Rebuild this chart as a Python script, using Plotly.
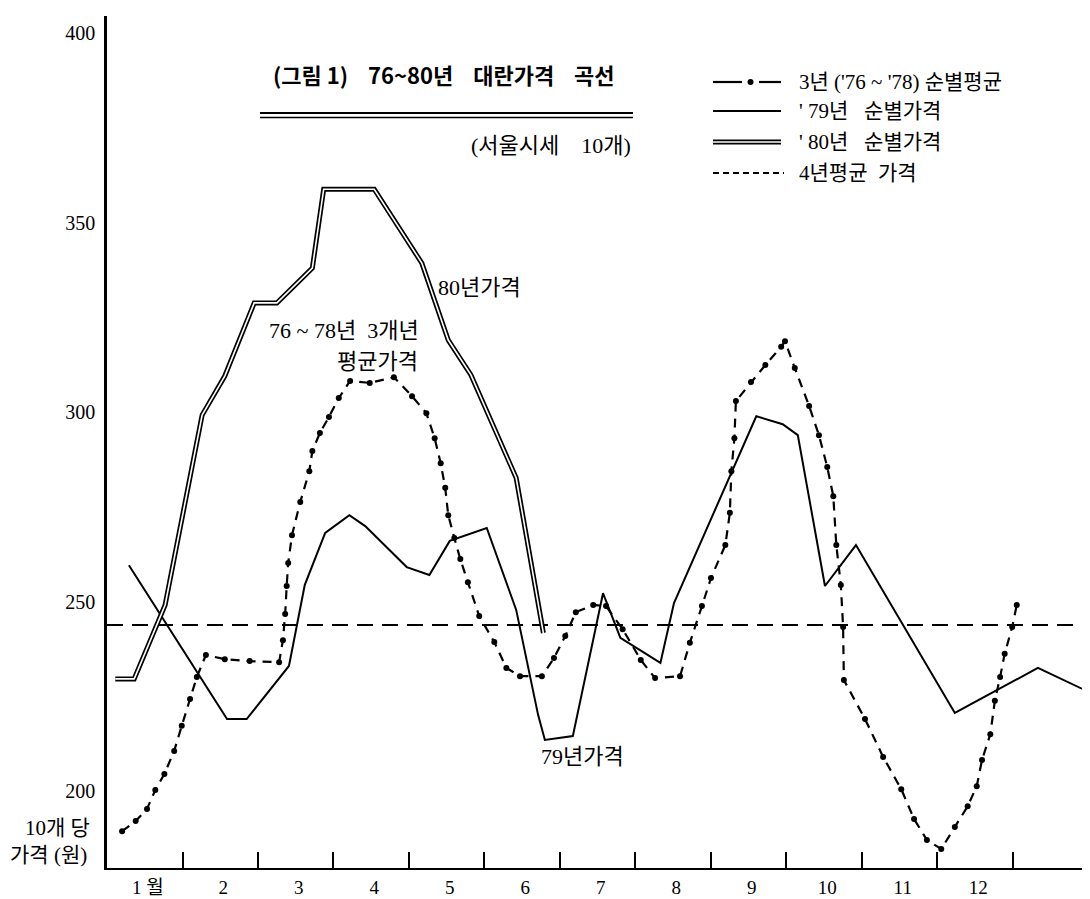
import plotly.graph_objects as go

# ---------------- data ----------------
# x = position in months (0 = start of January, 1 = end of January ...)
months_80 = [0.11, 0.36, 0.77, 1.26, 1.56, 1.95, 2.25, 2.72, 2.87, 3.54, 4.17, 4.52, 4.82, 5.42, 5.78]
price_80 = [229.6, 229.6, 249.1, 299.2, 309.5, 328.8, 328.8, 338.0, 358.8, 358.8, 339.3, 319.0, 309.8, 282.6, 241.7]

months_79 = [0.29, 1.59, 1.85, 2.41, 2.62, 2.89, 3.21, 3.42, 3.97, 4.27, 4.54, 5.03, 5.42, 5.71,
             5.80, 6.17, 6.57, 6.80, 7.33, 7.51, 8.60, 8.95, 9.15, 9.51, 9.92, 11.23, 12.33, 13.03]
price_79 = [259.6, 219.0, 219.0, 233.0, 254.4, 268.1, 272.8, 269.9, 259.1, 257.0, 266.0, 269.4, 247.8, 220.1,
            213.5, 214.5, 252.2, 240.4, 233.8, 249.6, 298.9, 296.8, 293.9, 254.1, 264.9, 220.6, 232.5, 225.9]

months_3yr = [0.20, 0.38, 0.53, 0.64, 0.76, 0.89, 0.99, 1.10, 1.19, 1.31, 1.56, 1.89, 2.28, 2.33, 2.36, 2.38,
              2.40, 2.45, 2.56, 2.68, 2.72, 2.82, 2.94, 3.07, 3.22, 3.48, 3.80, 4.04, 4.23, 4.34, 4.42, 4.48,
              4.52, 4.60, 4.68, 4.78, 4.93, 5.13, 5.29, 5.47, 5.76, 5.92, 6.07, 6.21, 6.44, 6.61, 6.83, 7.07,
              7.26, 7.59, 7.72, 7.88, 8.00, 8.19, 8.25, 8.27, 8.31, 8.33, 8.53, 8.72, 8.93, 8.98, 9.11, 9.30,
              9.43, 9.54, 9.62, 9.66, 9.72, 9.75, 9.76, 10.04, 10.28, 10.52, 10.69, 10.86, 11.05, 11.23, 11.40,
              11.52, 11.59, 11.70, 11.76, 11.83, 11.89, 11.99, 12.05]
price_3yr = [189.4, 192.1, 195.3, 200.3, 204.5, 210.6, 217.2, 224.3, 230.1, 235.9, 234.8, 234.3, 234.0, 239.8,
             246.7, 254.1, 260.2, 267.5, 276.3, 284.4, 289.7, 294.5, 298.7, 303.7, 308.2, 307.7, 309.2, 304.2,
             299.7, 293.1, 286.5, 280.0, 272.8, 266.8, 261.2, 255.1, 246.2, 239.3, 232.5, 230.3, 230.3, 235.1,
             240.9, 247.2, 249.1, 248.8, 242.7, 234.6, 229.8, 230.3, 239.1, 248.8, 256.2, 264.9, 273.4, 284.4,
             293.1, 302.9, 307.9, 312.4, 317.2, 318.7, 311.6, 301.6, 293.9, 285.5, 277.8, 264.9, 254.4, 243.3,
             229.3, 219.0, 209.0, 200.5, 192.6, 187.1, 184.7, 190.5, 196.0, 201.3, 208.2, 215.0, 223.8, 230.1,
             236.2, 243.3, 249.1]

avg_4yr = 243.8

month_labels = ["1 월", "2", "3", "4", "5", "6", "7", "8", "9", "10", "11", "12"]
month_bounds = [1, 2, 3, 4, 5, 6, 7, 8, 9, 10, 11, 12]
y_ticks = [200, 250, 300, 350, 400]

legend_labels = ["3년 ('76 ~ '78) 순별평균", "' 79년   순별가격", "' 80년   순별가격", "4년평균  가격"]
title_text = "(그림 1)    76~80년    대란가격    곡선"
subtitle_text = "(서울시세    10개)"

# ---------------- layout helpers ----------------
W, H = 1090, 899
L, R, T, B = 99, 5, 8, 39
X_RANGE = [0, 13.06]
Y_RANGE = [179.7, 404.5]
SERIF = "Liberation Serif, Noto Sans CJK KR, serif"
KR = "Noto Sans CJK KR, sans-serif"


def px(x):
    return (x - L) / (W - L - R)


def py(y):
    return (H - B - y) / (H - T - B)


def sp(s):
    return s.replace(" ", "\u00a0")


fig = go.Figure()

# 4-year average (dashed horizontal)
fig.add_trace(go.Scatter(x=X_RANGE, y=[avg_4yr, avg_4yr], mode="lines",
                         line=dict(color="black", width=2, dash="16px,9px")))
# '79
fig.add_trace(go.Scatter(x=months_79, y=price_79, mode="lines",
                         line=dict(color="black", width=2)))
# 3-year average: dash + dots
fig.add_trace(go.Scatter(x=months_3yr, y=price_3yr, mode="lines+markers",
                         line=dict(color="black", width=2.2, dash="9px,7px"),
                         marker=dict(color="black", size=6)))
# '80 double line
fig.add_trace(go.Scatter(x=months_80, y=price_80, mode="lines",
                         line=dict(color="black", width=5)))
fig.add_trace(go.Scatter(x=months_80, y=price_80, mode="lines",
                         line=dict(color="white", width=1.6)))

shapes = []
annotations = []

# title + double underline + subtitle
annotations.append(dict(x=px(436), y=py(66), xref="paper", yref="paper", text=sp(title_text),
                        showarrow=False, xanchor="center", yanchor="middle",
                        font=dict(family=KR, size=22, color="black", weight="bold")))
for yy, w in [(105, 2), (109.5, 1.6)]:
    shapes.append(dict(type="line", xref="paper", yref="paper", x0=px(252), x1=px(625),
                       y0=py(yy), y1=py(yy), line=dict(color="black", width=w)))
annotations.append(dict(x=px(625), y=py(138), xref="paper", yref="paper", text=sp(subtitle_text),
                        showarrow=False, xanchor="right", yanchor="middle",
                        font=dict(family=SERIF, size=22, color="black")))

# manual legend
rows = [74, 103, 134, 165]
x0l, x1l = 705, 773
# row 1: dash-dot-dash
shapes.append(dict(type="line", xref="paper", yref="paper", x0=px(x0l), x1=px(734),
                   y0=py(rows[0]), y1=py(rows[0]), line=dict(color="black", width=2.2)))
shapes.append(dict(type="line", xref="paper", yref="paper", x0=px(751), x1=px(x1l),
                   y0=py(rows[0]), y1=py(rows[0]), line=dict(color="black", width=2.2)))
shapes.append(dict(type="circle", xref="paper", yref="paper", x0=px(739.5), x1=px(745.5),
                   y0=py(rows[0] + 3), y1=py(rows[0] - 3), fillcolor="black", line=dict(width=0)))
# row 2: solid
shapes.append(dict(type="line", xref="paper", yref="paper", x0=px(x0l), x1=px(x1l),
                   y0=py(rows[1]), y1=py(rows[1]), line=dict(color="black", width=2)))
# row 3: double line
shapes.append(dict(type="line", xref="paper", yref="paper", x0=px(x0l), x1=px(x1l),
                   y0=py(rows[2]), y1=py(rows[2]), line=dict(color="black", width=5)))
shapes.append(dict(type="line", xref="paper", yref="paper", x0=px(x0l), x1=px(x1l),
                   y0=py(rows[2]), y1=py(rows[2]), line=dict(color="white", width=1.6)))
# row 4: short dashes
shapes.append(dict(type="line", xref="paper", yref="paper", x0=px(x0l), x1=px(776),
                   y0=py(rows[3]), y1=py(rows[3]), line=dict(color="black", width=1.8, dash="6px,4px")))
for r, lab in zip(rows, legend_labels):
    annotations.append(dict(x=px(789), y=py(r), xref="paper", yref="paper", text=sp(lab),
                            showarrow=False, xanchor="left", yanchor="middle",
                            font=dict(family=SERIF, size=21, color="black")))

# in-plot labels
for txt, xl, yc in [("80년가격", 428, 280), ("76 ~ 78년  3개년", 259, 323),
                    ("평균가격", 327, 353), ("79년가격", 531, 748)]:
    annotations.append(dict(x=px(xl), y=py(yc), xref="paper", yref="paper", text=sp(txt),
                            showarrow=False, xanchor="left", yanchor="middle",
                            font=dict(family=SERIF, size=22, color="black")))

# y-axis unit label
annotations.append(dict(x=px(15), y=py(820), xref="paper", yref="paper", text=sp("10개 당"),
                        showarrow=False, xanchor="left", yanchor="middle",
                        font=dict(family=SERIF, size=21, color="black")))
annotations.append(dict(x=px(0), y=py(847), xref="paper", yref="paper", text=sp("가격 (원)"),
                        showarrow=False, xanchor="left", yanchor="middle",
                        font=dict(family=SERIF, size=21, color="black")))

fig.update_layout(
    width=W, height=H,
    margin=dict(l=L, r=R, t=T, b=B),
    paper_bgcolor="white", plot_bgcolor="white",
    showlegend=False,
    shapes=shapes, annotations=annotations,
    xaxis=dict(range=X_RANGE, showgrid=False, zeroline=False, showline=True,
               linecolor="black", linewidth=2.2,
               tickmode="array", tickvals=[b - 0.46 for b in month_bounds], ticktext=month_labels,
               ticks="", ticklabelstandoff=1, automargin=False,
               tickfont=dict(family=SERIF, size=19, color="black"),
               minor=dict(tickmode="array", tickvals=month_bounds, ticks="inside", ticklen=16,
                          tickwidth=2, tickcolor="black", showgrid=False)),
    yaxis=dict(range=Y_RANGE, showgrid=False, zeroline=False, showline=True,
               linecolor="black", linewidth=2.5,
               tickmode="array", tickvals=y_ticks, ticks="", ticklabelstandoff=5,
               automargin=False,
               tickfont=dict(family=SERIF, size=20, color="black")),
)

fig.write_html("out.html")
